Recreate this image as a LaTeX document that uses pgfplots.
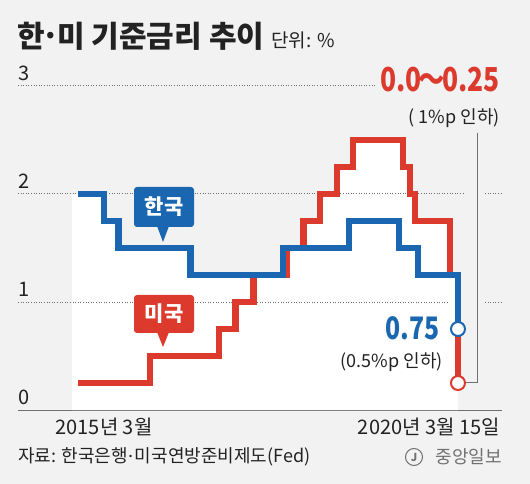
\documentclass[border=0pt]{standalone}
\usepackage{pgfplots}
\pgfplotsset{compat=1.18}
\usepackage{fontspec}
\setmainfont{Noto Sans CJK KR}
\newfontfamily\cond[FakeStretch=0.8]{Noto Sans CJK KR}
\definecolor{krblue}{HTML}{1A66B0}
\definecolor{usred}{HTML}{DD3A2E}
\definecolor{bg}{HTML}{F2F2F2}
\definecolor{txt}{HTML}{222222}
\definecolor{axgray}{HTML}{707070}
\newcommand{\mdot}{\kern1bp\raisebox{0.3em}{.}\kern1bp}
\begin{document}
\begin{tikzpicture}
\fill[bg] (-18bp,-74bp) rectangle (512bp,410bp);
\begin{axis}[
  at={(0,0)}, anchor=south west,
  scale only axis, width=484bp, height=324bp,
  xmin=2013.944, xmax=2020.826, ymin=0, ymax=3,
  axis x line=bottom, axis y line=left,
  x axis line style={-, draw=axgray, line width=1bp},
  y axis line style={draw=none},
  xtick={2015.167}, xticklabels={2015년 3월},
  extra x ticks={2020.2}, extra x tick labels={2020년 3월 15일},
  extra x tick style={xticklabel style={anchor=north east, xshift=42bp}},
  tick align=inside, major tick length=10bp,
  xtick style={draw=axgray, line width=1bp},
  ytick={0,1,2,3}, ytick style={draw=none},
  /pgf/number format/assume math mode=true,
  yticklabel style={anchor=south west, inner sep=0pt, xshift=0bp, yshift=5bp, font=\fontsize{20bp}{20bp}\selectfont, text=txt},
  xticklabel style={anchor=north, inner sep=0pt, yshift=-8bp, font=\fontsize{20bp}{20bp}\selectfont, text=txt},
  clip=false,
]
% white area below the upper of the two lines
\addplot[fill=white, draw=none, const plot] coordinates {
 (2014.71,2.0) (2015.17,1.75) (2015.37,1.5) (2016.40,1.25) (2017.71,1.5)
 (2018.00,1.75) (2018.24,2.0) (2018.48,2.25) (2018.71,2.5) (2019.42,2.25)
 (2019.52,2.0) (2019.59,1.75) (2020.09,1.25) (2020.20,1.25)} \closedcycle;
% dotted grid lines
\draw[axgray, line width=1bp, dash pattern=on 1bp off 1.6bp] (axis cs:2013.944,3) -- (axis cs:2019.02,3);
\draw[axgray, line width=1bp, dash pattern=on 1bp off 1.6bp] (axis cs:2013.944,2) -- (axis cs:2020.30,2);
\draw[axgray, line width=1bp, dash pattern=on 1bp off 1.6bp] (axis cs:2020.584,2) -- (axis cs:2020.826,2);
\draw[axgray, line width=1bp, dash pattern=on 1bp off 1.6bp] (axis cs:2013.944,1) -- (axis cs:2020.06,1);
\draw[axgray, line width=1bp, dash pattern=on 1bp off 1.6bp] (axis cs:2020.584,1) -- (axis cs:2020.826,1);
% US federal funds rate (upper bound)
\addplot[usred, line width=6.5bp, line join=miter, const plot, mark=none] coordinates {
 (2014.80,0.25) (2015.82,0.5) (2016.80,0.75) (2017.04,1.0) (2017.29,1.25)
 (2017.77,1.5) (2018.00,1.75) (2018.24,2.0) (2018.48,2.25) (2018.71,2.5)
 (2019.42,2.25) (2019.52,2.0) (2019.59,1.75) (2020.09,1.25) (2020.20,0.25)};
% Korea base rate
\addplot[krblue, line width=6.5bp, line join=miter, const plot, mark=none] coordinates {
 (2014.80,2.0) (2015.17,1.75) (2015.37,1.5) (2016.40,1.25) (2017.71,1.5)
 (2018.65,1.75) (2019.36,1.5) (2019.63,1.25) (2020.20,0.75)};
\addplot[only marks, mark=*, mark size=7bp, mark options={fill=white, draw=usred, line width=2bp}] coordinates {(2020.20,0.25)};
\addplot[only marks, mark=*, mark size=7bp, mark options={fill=white, draw=krblue, line width=2bp}] coordinates {(2020.20,0.75)};
\end{axis}
% title
\node[anchor=base west, inner sep=0pt, text=txt] at (-1bp,362bp)
  {{\bfseries\fontsize{30bp}{30bp}\selectfont 한\mdot 미 기준금리 추이}\hspace{7bp}{\fontsize{19bp}{19bp}\selectfont 단위: \%}};
% call-outs
\fill[krblue, rounded corners=3bp] (116bp,183bp) rectangle (176bp,223bp);
\fill[krblue] (139bp,184bp) -- (145bp,168bp) -- (151bp,184bp) -- cycle;
\node[text=white, font=\bfseries\fontsize{21bp}{21bp}\selectfont] at (146bp,203bp) {한국};
\fill[usred, rounded corners=3bp] (116bp,77bp) rectangle (176bp,115bp);
\fill[usred] (139bp,78bp) -- (145bp,63bp) -- (151bp,78bp) -- cycle;
\node[text=white, font=\bfseries\fontsize{21bp}{21bp}\selectfont] at (146bp,96bp) {미국};
% value annotations
\node[anchor=east, inner sep=0pt, text=usred, font=\cond\bfseries\fontsize{33bp}{33bp}\selectfont] at (482bp,330bp) {0.0\kern-3bp～\kern-3bp0.25};
\node[anchor=east, inner sep=0pt, text=txt, font=\fontsize{18bp}{18bp}\selectfont] at (482bp,292bp) {( 1\%p 인하)};
\node[anchor=east, inner sep=0pt, text=krblue, font=\cond\bfseries\fontsize{31bp}{31bp}\selectfont] at (422bp,82bp) {0.75};
\node[anchor=east, inner sep=0pt, text=txt, font=\fontsize{18bp}{18bp}\selectfont] at (425bp,48bp) {(0.5\%p 인하)};
\draw[axgray, line width=1bp] (459bp,277bp) -- (459bp,27bp) -- (448bp,27bp);
% footer
\node[anchor=west, inner sep=0pt, text=txt, font=\fontsize{18bp}{18bp}\selectfont] at (0bp,-47bp) {자료: 한국은행\mdot 미국연방준비제도(Fed)};
\node[anchor=east, inner sep=0pt, text=axgray, font=\fontsize{18bp}{18bp}\selectfont] at (484bp,-47bp) {중앙일보};
\node[draw=axgray, circle, line width=1bp, minimum size=17bp, inner sep=0pt, text=axgray, font=\bfseries\fontsize{11bp}{11bp}\selectfont] at (396bp,-47bp) {J};
\end{tikzpicture}
\end{document}
